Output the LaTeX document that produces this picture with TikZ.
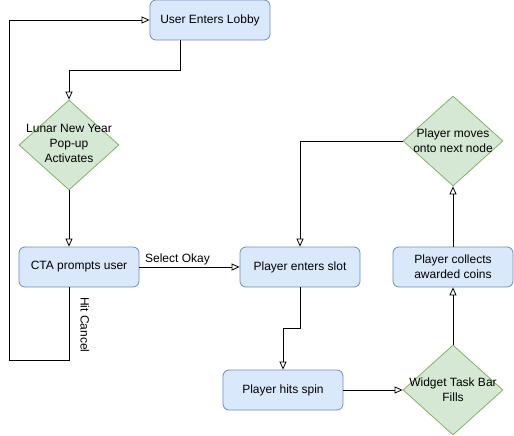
\documentclass[tikz,border=0pt]{standalone}
\usepackage{fontspec}
\setmainfont{Liberation Sans}
\usetikzlibrary{arrows.meta,shapes.geometric,calc}
\definecolor{bfill}{HTML}{DAE8FC}
\definecolor{bdraw}{HTML}{6C8EBF}
\definecolor{gfill}{HTML}{D5E8D4}
\definecolor{gdraw}{HTML}{82B366}
\begin{document}
\begin{tikzpicture}[x=1pt,y=-1pt,
  font=\fontsize{12}{15}\selectfont,
  box/.style={draw=bdraw,fill=bfill,rounded corners=6pt,minimum width=120pt,minimum height=40pt,inner sep=0pt,align=center,line width=0.8pt},
  dia/.style={draw=gdraw,fill=gfill,diamond,minimum width=100pt,minimum height=90pt,inner sep=0pt,line width=0.8pt},
  dtext/.style={align=center,inner sep=0pt},
  arr/.style={draw=black,line width=0.8pt,-{Triangle[open,length=8pt,width=7pt]}},
  lbl/.style={inner sep=2pt}]
\useasboundingbox (0,0) rectangle (514,436);
\node[box] (lobby) at (210,20) {User Enters Lobby};
\node[dia] (lunar) at (69,145) {};
\node[dtext] (lunartxt) at (69,143) {Lunar New Year\\Pop-up\\Activates};
\node[box] (cta) at (79,267) {CTA prompts user};
\node[box] (slot) at (300,267) {Player enters slot};
\node[box] (spin) at (283,390) {Player hits spin};
\node[dia] (widget) at (453,390) {};
\node[dtext] (widgettxt) at (453,390) {Widget Task Bar\\Fills};
\node[box] (collects) at (453,267) {Player collects\\awarded coins};
\node[dia] (moves) at (453,141) {};
\node[dtext] (movestxt) at (453,141) {Player moves\\onto next node};

\draw[arr] ([xshift=-30pt]lobby.south) |- (69,70) -- (lunar.north);
\draw[arr] (lunar.south) -- (lunar.south |- cta.north);
\draw[arr] (cta.south -| lunar.south) -- (69,360) -| (9,20) -- (lobby.west);
\node[lbl,rotate=-90] (cancel) at (85,325) {Hit Cancel};
\draw[arr] (cta.east) -- node[lbl,above,pos=0.38] (okay) {Select Okay} (slot.west);
\draw[arr] (moves.west) -| (slot.north);
\draw[arr] (slot.south) -- (300,328) -| (spin.north);
\draw[arr] (spin.east) -- (widget.west);
\draw[arr] (widget.north) -- (collects.south);
\draw[arr] (collects.north) -- (moves.south);
\end{tikzpicture}
\end{document}
